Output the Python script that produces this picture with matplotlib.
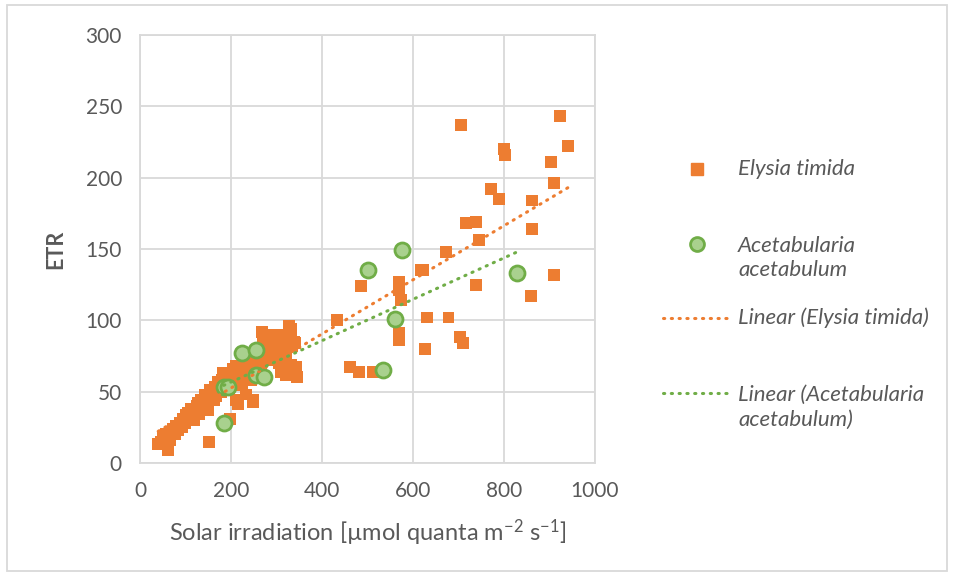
import numpy as np
import matplotlib.pyplot as plt
from matplotlib.lines import Line2D
from matplotlib.patches import Rectangle

# Elysia timida: solar irradiation vs ETR
elysia_x = [923, 941, 705, 799, 803, 903, 910, 771, 789, 862, 716, 739, 745, 862,
            672, 617, 622, 569, 569, 573, 486, 739, 910, 860, 432, 631, 678, 570,
            570, 703, 709, 626, 461, 481, 513,
            332, 332, 335, 343, 346, 328, 288, 306, 339, 277, 299, 332, 321, 233,
            219, 186, 233, 248, 212, 146, 284, 314, 310, 190, 215, 248, 215, 151,
            197, 268,
            40, 62, 51, 73, 88, 106, 128, 142, 153, 171, 182, 204, 226, 248, 277,
            328, 45, 55, 58, 66, 68, 78, 80, 84, 92, 95, 98, 102, 110, 112, 118,
            120, 125, 130, 135, 138, 145, 150, 158, 162, 165, 168, 175, 178, 180,
            192, 195, 200, 208, 210, 222, 225, 238, 240, 245, 252, 258, 262, 266,
            270, 275, 282, 290, 295, 300, 305, 318, 322, 340]
elysia_y = [243, 222, 237, 220, 216, 211, 196, 192, 185, 184, 168, 169, 156, 164,
            148, 135, 135, 127, 121, 114, 124, 125, 132, 117, 100, 102, 102, 91,
            86, 88, 84, 80, 67, 64, 64,
            94, 86, 82, 67, 60, 93, 90, 88, 85, 81, 75, 69, 62, 66,
            60, 62, 48, 43, 44, 46, 88, 90, 64, 62, 64, 44, 41, 15,
            31, 92,
            13, 9, 18, 24, 28, 35, 42, 48, 51, 57, 63, 66, 71, 76, 84,
            96, 15, 14, 20, 16, 22, 20, 26, 23, 25, 31, 28, 34, 32, 38, 30,
            36, 40, 34, 44, 38, 42, 37, 49, 44, 53, 47, 54, 50, 58,
            56, 52, 60, 57, 68, 64, 55, 70, 62, 58, 68, 78, 72, 64,
            85, 76, 72, 80, 84, 78, 70, 84, 76, 84]

# Acetabularia acetabulum
aceta_x = [184, 185, 194, 224, 254, 255, 273, 533, 560, 575, 500, 829]
aceta_y = [28, 53, 53, 77, 62, 79, 60, 65, 101, 149, 135, 133]

orange = "#ED7D31"
green_edge = "#70AD47"
green_fill = "#A9D18E"
grid_col = "#D9D9D9"
text_col = "#595959"
dotted = (0, (0.4, 2.15))

plt.rcParams['font.family'] = ['Lato', 'DejaVu Sans']
plt.rcParams['mathtext.fontset'] = 'custom'
plt.rcParams['mathtext.rm'] = 'Lato'
plt.rcParams['mathtext.it'] = 'Lato:italic'
plt.rcParams['mathtext.bf'] = 'Lato:bold'

fig = plt.figure(figsize=(9.54, 5.77), dpi=100)
ax = fig.add_axes([140 / 954, 1 - 463 / 577, 455 / 954, 428 / 577])

ax.scatter(elysia_x, elysia_y, marker='s', s=8.6 ** 2, color=orange,
           edgecolors='none', zorder=3)
ax.scatter(aceta_x, aceta_y, marker='o', s=10.8 ** 2, facecolor=green_fill,
           edgecolors=green_edge, linewidths=2.0, zorder=4)

# linear trendlines over each series' x range
for xs, ys, col in [(elysia_x, elysia_y, orange), (aceta_x, aceta_y, green_edge)]:
    k, b = np.polyfit(xs, ys, 1)
    xr = np.array([min(xs), max(xs)])
    ax.plot(xr, k * xr + b, color=col, lw=2.2, ls=dotted,
            dash_capstyle='round', zorder=5)

ax.set_xlim(0, 1000)
ax.set_ylim(0, 300)
ax.set_xticks(range(0, 1001, 200))
ax.set_yticks(range(0, 301, 50))
ax.grid(True, color=grid_col, lw=1.3)
ax.set_axisbelow(True)
for sp in ax.spines.values():
    sp.set_color(grid_col)
    sp.set_linewidth(1.3)
ax.tick_params(length=0, labelsize=15, colors=text_col, pad=13)
ax.set_ylabel("ETR", fontsize=15.5, fontweight='bold', color=text_col, labelpad=14)
ax.set_xlabel(r"Solar irradiation [µmol quanta m$^{\mathrm{-2}}$ s$^{\mathrm{-1}}$]",
              fontsize=17, color=text_col, labelpad=12)

# legend, drawn in figure pixel coordinates
def px(x, y):
    return x / 954, 1 - y / 577

leg_font = dict(fontsize=16, style='italic', color=text_col, va='center', ha='left',
                linespacing=1.3)
fig.add_artist(Line2D(*zip(px(697, 169)), marker='s', ms=8, color=orange, ls='none',
                      transform=fig.transFigure))
fig.text(*px(738, 169), "Elysia timida", **leg_font)
fig.add_artist(Line2D(*zip(px(697, 244)), marker='o', ms=10, markerfacecolor=green_fill,
                      markeredgecolor=green_edge, markeredgewidth=2, ls='none',
                      transform=fig.transFigure))
fig.text(*px(738, 258), "Acetabularia\nacetabulum", **leg_font)
for y, col in [(318, orange), (393, green_edge)]:
    x0, yy = px(663, y)
    x1, _ = px(729, y)
    fig.add_artist(Line2D([x0, x1], [yy, yy], color=col, lw=2.2, ls=dotted,
                          dash_capstyle='round', transform=fig.transFigure))
fig.text(*px(738, 318), "Linear (Elysia timida)", **leg_font)
fig.text(*px(738, 407), "Linear (Acetabularia\nacetabulum)", **leg_font)

# chart border
x0, y0 = px(7, 571)
fig.add_artist(Rectangle((x0, y0), 940 / 954, 566 / 577, transform=fig.transFigure,
                         fill=False, edgecolor=grid_col, lw=1.3))

fig.savefig("out.png", dpi=100)
